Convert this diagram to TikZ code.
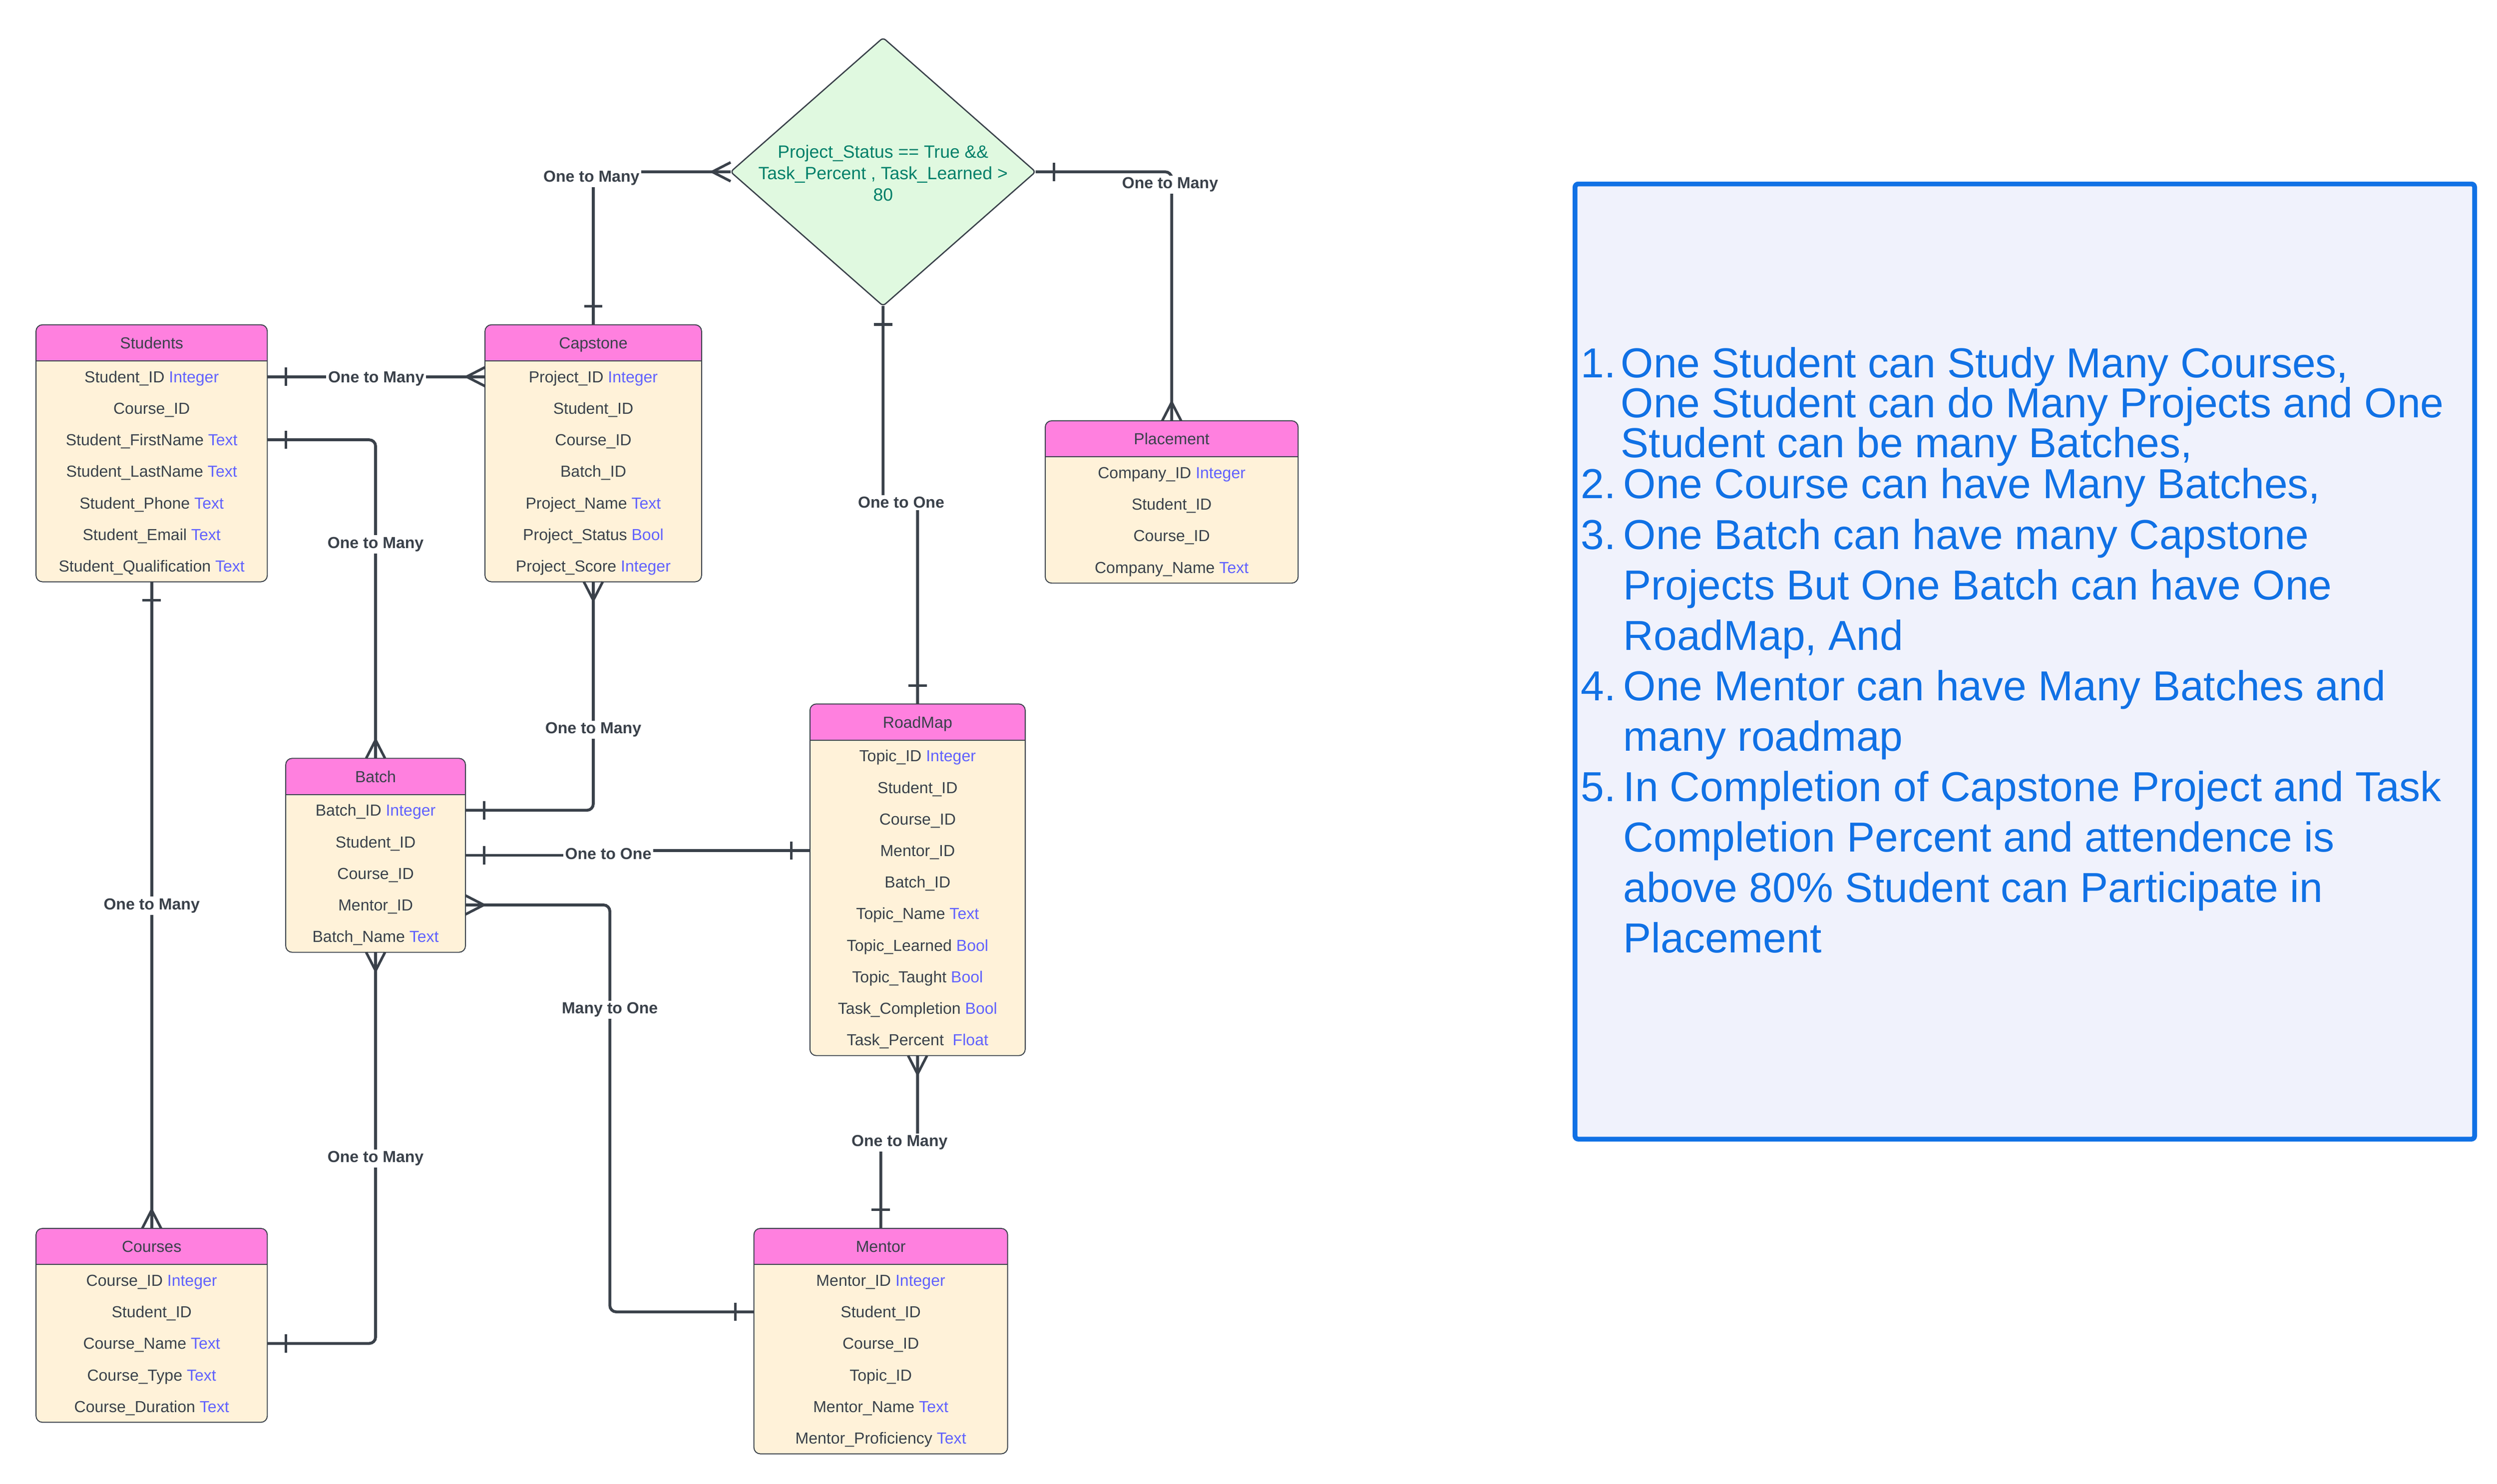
\documentclass[tikz,border=0pt]{standalone}
\usepackage{fontspec}
\setmainfont{Liberation Sans}
\usetikzlibrary{calc,shapes.geometric}
\definecolor{linec}{HTML}{3A414A}
\definecolor{hdrc}{HTML}{FF80DF}
\definecolor{bodyc}{HTML}{FFF2D9}
\definecolor{typec}{HTML}{6161FF}
\definecolor{condfill}{HTML}{E0F9E0}
\definecolor{condtext}{HTML}{00806A}
\definecolor{notec}{HTML}{1071E5}
\definecolor{notefill}{HTML}{F0F2FC}
\newcommand{\ty}[1]{\textcolor{typec}{#1}}
\def\headh{22.6}
\def\rowh{19.72}
\newcommand{\ertable}[6]{%
  \pgfmathsetmacro\tw{#3-#2}%
  \pgfmathsetmacro\th{\headh+#5*\rowh}%
  \node[tbody, minimum width=\tw pt, minimum height=\th pt, anchor=north west] (#1) at (#2,#4) {};
  \begin{scope}
    \clip[rounded corners=4pt] (#1.north west) rectangle (#1.south east);
    \fill[hdrc] (#1.north west) rectangle ($(#1.north east)+(0,\headh)$);
  \end{scope}
  \draw[tborder] ($(#1.north west)+(0,\headh)$) -- ($(#1.north east)+(0,\headh)$);
  \draw[tborder, rounded corners=4pt] (#1.north west) rectangle (#1.south east);
  \node[ttext] (#1-t) at ($(#1.north)+(0,{\headh/2+3.6})$) {#6};
}
\newcommand{\erow}[3]{%
  \coordinate (#1-r#2) at ($(#1.north)+(0,{\headh+\rowh*(#2-0.5)})$);
  \node[ttext] (#1-#2) at ($(#1.north)+(0,{\headh+\rowh*(#2-0.5)+3.6})$) {#3};
}
\newcommand{\onemark}[3]{%
  \draw[markline] ($(#1)+({11.6*(#2)-5.7*(#3)},{11.6*(#3)+5.7*(#2)})$) -- ($(#1)+({11.6*(#2)+5.7*(#3)},{11.6*(#3)-5.7*(#2)})$);
}
\newcommand{\manymark}[3]{%
  \draw[markline] ($(#1)+({-5.9*(#3)},{5.9*(#2)})$) -- ($(#1)+({11.5*(#2)},{11.5*(#3)})$) -- ($(#1)+({5.9*(#3)},{-5.9*(#2)})$);
}
\begin{document}
\begin{tikzpicture}[x=1pt,y=-1pt,
  tbody/.style={rectangle, fill=bodyc, rounded corners=4pt, inner sep=0pt, outer sep=0pt},
  tborder/.style={draw=linec, line width=0.6pt},
  ttext/.style={font=\fontsize{10}{12}\selectfont, text=linec, anchor=base, inner sep=0pt},
  conn/.style={draw=linec, line width=1.8pt, rounded corners=4pt},
  markline/.style={draw=linec, line width=1.6pt},
  lbl/.style={font=\bfseries\fontsize{10}{12}\selectfont, text=linec, fill=white, inner sep=1.2pt, anchor=base},
  condshape/.style={diamond, draw=linec, line width=0.8pt, fill=condfill, minimum width=190.5pt, minimum height=167.6pt, inner sep=0pt, outer sep=0pt, rounded corners=2pt},
  condtxt/.style={font=\fontsize{11.1}{13.45}\selectfont, text=condtext, align=center, inner sep=0pt},
  notebox/.style={rectangle, draw=notec, line width=3pt, fill=notefill, rounded corners=2pt, inner sep=0pt},
  ntext/.style={font=\fontsize{26.2}{30}\selectfont, text=notec, anchor=base west, inner sep=0pt}
]
\useasboundingbox (0,0) rectangle (1560,927.3);
\fill[white] (0,0) rectangle (1560,927.3);

% ---------- tables ----------
\ertable{Students}{22.5}{167}{203}{7}{Students}
\erow{Students}{1}{Student\_ID \ty{Integer}}
\erow{Students}{2}{Course\_ID}
\erow{Students}{3}{Student\_FirstName \ty{Text}}
\erow{Students}{4}{Student\_LastName \ty{Text}}
\erow{Students}{5}{Student\_Phone \ty{Text}}
\erow{Students}{6}{Student\_Email \ty{Text}}
\erow{Students}{7}{Student\_Qualification \ty{Text}}

\ertable{Capstone}{303}{438.3}{203}{7}{Capstone}
\erow{Capstone}{1}{Project\_ID \ty{Integer}}
\erow{Capstone}{2}{Student\_ID}
\erow{Capstone}{3}{Course\_ID}
\erow{Capstone}{4}{Batch\_ID}
\erow{Capstone}{5}{Project\_Name \ty{Text}}
\erow{Capstone}{6}{Project\_Status \ty{Bool}}
\erow{Capstone}{7}{Project\_Score \ty{Integer}}

\ertable{Placement}{653}{811}{263}{4}{Placement}
\erow{Placement}{1}{Company\_ID \ty{Integer}}
\erow{Placement}{2}{Student\_ID}
\erow{Placement}{3}{Course\_ID}
\erow{Placement}{4}{Company\_Name \ty{Text}}

\ertable{RoadMap}{506}{640.5}{440}{10}{RoadMap}
\erow{RoadMap}{1}{Topic\_ID \ty{Integer}}
\erow{RoadMap}{2}{Student\_ID}
\erow{RoadMap}{3}{Course\_ID}
\erow{RoadMap}{4}{Mentor\_ID}
\erow{RoadMap}{5}{Batch\_ID}
\erow{RoadMap}{6}{Topic\_Name \ty{Text}}
\erow{RoadMap}{7}{Topic\_Learned \ty{Bool}}
\erow{RoadMap}{8}{Topic\_Taught \ty{Bool}}
\erow{RoadMap}{9}{Task\_Completion \ty{Bool}}
\erow{RoadMap}{10}{Task\_Percent\ \ \ty{Float}}

\ertable{Batch}{178.5}{290.8}{474}{5}{Batch}
\erow{Batch}{1}{Batch\_ID \ty{Integer}}
\erow{Batch}{2}{Student\_ID}
\erow{Batch}{3}{Course\_ID}
\erow{Batch}{4}{Mentor\_ID}
\erow{Batch}{5}{Batch\_Name \ty{Text}}

\ertable{Courses}{22.5}{167}{767.8}{5}{Courses}
\erow{Courses}{1}{Course\_ID \ty{Integer}}
\erow{Courses}{2}{Student\_ID}
\erow{Courses}{3}{Course\_Name \ty{Text}}
\erow{Courses}{4}{Course\_Type \ty{Text}}
\erow{Courses}{5}{Course\_Duration \ty{Text}}

\ertable{Mentor}{471}{629.5}{767.8}{6}{Mentor}
\erow{Mentor}{1}{Mentor\_ID \ty{Integer}}
\erow{Mentor}{2}{Student\_ID}
\erow{Mentor}{3}{Course\_ID}
\erow{Mentor}{4}{Topic\_ID}
\erow{Mentor}{5}{Mentor\_Name \ty{Text}}
\erow{Mentor}{6}{Mentor\_Proficiency \ty{Text}}

% ---------- condition ----------
\node[condshape] (cond) at (551.7,107.4) {};
\node[condtxt] (cond-t) at (551.7,108.2) {Project\_Status == True \&\&\\Task\_Percent , Task\_Learned >\\80};

% ---------- connectors ----------
% 1 Students - Capstone
\coordinate (p1a) at (Students.east |- Students-r1);
\coordinate (p1b) at (Capstone.west |- Capstone-r1);
\draw[conn] (p1a) -- (p1b);
\onemark{p1a}{1}{0}
\manymark{p1b}{-1}{0}
% 2 Students - Batch
\coordinate (p2a) at (Students.east |- Students-r3);
\coordinate (p2b) at (Batch.north);
\draw[conn] (p2a) -| (p2b);
\onemark{p2a}{1}{0}
\manymark{p2b}{0}{-1}
% 3 Students - Courses
\coordinate (p3a) at (Students.south);
\coordinate (p3b) at (Courses.north);
\draw[conn] (p3a) -- (p3b);
\onemark{p3a}{0}{1}
\manymark{p3b}{0}{-1}
% 4 Capstone - Batch
\coordinate (p4a) at (Capstone.south);
\coordinate (p4b) at (Batch.east |- Batch-r1);
\draw[conn] (p4a) |- (p4b);
\manymark{p4a}{0}{1}
\onemark{p4b}{1}{0}
% 5 Capstone - condition
\coordinate (p5a) at (Capstone.north);
\coordinate (p5b) at (cond.west);
\draw[conn] (p5a) |- (p5b);
\onemark{p5a}{0}{-1}
\manymark{p5b}{-1}{0}
% 6 condition - Placement
\coordinate (p6a) at (cond.east);
\coordinate (p6b) at (Placement.north);
\draw[conn] (p6a) -| (p6b);
\onemark{p6a}{1}{0}
\manymark{p6b}{0}{-1}
% 7 condition - RoadMap
\coordinate (p7a) at (cond.south);
\coordinate (p7b) at (RoadMap.north);
\coordinate (j7) at (563,314);
\draw[conn] (p7a) -- (p7a |- j7) -- (p7b |- j7) -- (p7b);
\onemark{p7a}{0}{1}
\onemark{p7b}{0}{-1}
% 8 Batch - RoadMap
\coordinate (p8a) at (Batch.east);
\coordinate (p8b) at (RoadMap.west |- RoadMap-r4);
\coordinate (j8) at (380,533);
\draw[conn, sharp corners] (p8a) -- (p8a -| j8) -- (j8 |- p8b) -- (p8b);
\onemark{p8a}{1}{0}
\onemark{p8b}{-1}{0}
% 9 Batch - Mentor
\coordinate (p9a) at (Batch.east |- Batch-r4);
\coordinate (p9b) at (Mentor.west |- Mentor-r2);
\coordinate (j9) at (381,630);
\draw[conn] (p9a) -- (p9a -| j9) -- (j9 |- p9b) -- (p9b);
\manymark{p9a}{1}{0}
\onemark{p9b}{-1}{0}
% 10 Batch - Courses
\coordinate (p10a) at (Batch.south);
\coordinate (p10b) at (Courses.east |- Courses-r3);
\draw[conn] (p10a) |- (p10b);
\manymark{p10a}{0}{1}
\onemark{p10b}{1}{0}
% 11 RoadMap - Mentor
\coordinate (p11a) at (RoadMap.south);
\coordinate (p11b) at (Mentor.north);
\coordinate (j11) at (562,713);
\draw[conn] (p11a) -- (p11a |- j11) -- (p11b |- j11) -- (p11b);
\manymark{p11a}{0}{1}
\onemark{p11b}{0}{-1}

% ---------- labels ----------
\node[lbl] (l1) at (235,239.1) {One to Many};
\node[lbl] (l2) at (234.65,342.6) {One to Many};
\node[lbl] (l3) at (94.75,568.6) {One to Many};
\node[lbl] (l4) at (370.65,458.6) {One to Many};
\node[lbl] (l5) at (369.5,113.8) {One to Many};
\node[lbl] (l6) at (731,117.9) {One to Many};
\node[lbl] (l7) at (563,317.6) {One to One};
\node[lbl] (l8) at (380,537.1) {One to One};
\node[lbl] (l9) at (381,633.6) {Many to One};
\node[lbl] (l10) at (234.65,726.6) {One to Many};
\node[lbl] (l11) at (562,716.6) {One to Many};

% ---------- notes ----------
\node[notebox, minimum width=562pt, minimum height=597pt, anchor=north west] (notes) at (982.5,113.5) {};
\node[ntext] (n1) at (987.5,236) {1.};
\node[ntext] (n1a) at (1012.5,236) {One Student can Study Many Courses,};
\node[ntext] (n1b) at (1012.5,261) {One Student can do Many Projects and One};
\node[ntext] (n1c) at (1012.5,286) {Student can be many Batches,};
\node[ntext] (n2) at (987.5,311.4) {2.};
\node[ntext] (n2a) at (1014,311.4) {One Course can have Many Batches,};
\node[ntext] (n3) at (987.5,343.3) {3.};
\node[ntext] (n3a) at (1014,343.3) {One Batch can have many Capstone};
\node[ntext] (n3b) at (1014,374.9) {Projects But One Batch can have One};
\node[ntext] (n3c) at (1014,406.5) {RoadMap, And};
\node[ntext] (n4) at (987.5,437.8) {4.};
\node[ntext] (n4a) at (1014,437.8) {One Mentor can have Many Batches and};
\node[ntext] (n4b) at (1014,469.3) {many roadmap};
\node[ntext] (n5) at (987.5,500.8) {5.};
\node[ntext] (n5a) at (1014,500.8) {In Completion of Capstone Project and Task};
\node[ntext] (n5b) at (1014,532.3) {Completion Percent and attendence is};
\node[ntext] (n5c) at (1014,563.8) {above 80\% Student can Participate in};
\node[ntext] (n5d) at (1014,595.3) {Placement};
\end{tikzpicture}
\end{document}
